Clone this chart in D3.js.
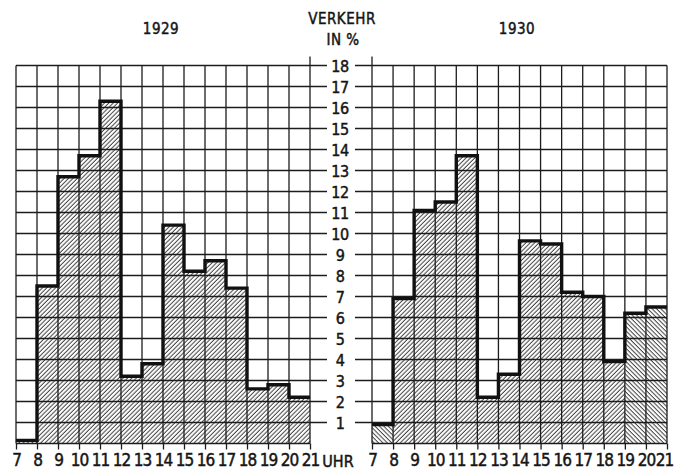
<!DOCTYPE html>
<html>
<head>
<meta charset="utf-8">
<script src="https://cdn.jsdelivr.net/npm/d3@7"></script>
<style>
    body { margin: 0; background: #fff; }
    svg { display: block; }
    text { font-family: "DejaVu Sans Condensed", "DejaVu Sans", sans-serif; fill: #151515; stroke: #151515; stroke-width: 0.45px; }
</style>
</head>
<body>
<svg id="drawing_region"></svg>
<script>
// Verkehr in % per Stunde (Startstunde 7 ... 20)
const hours = [7, 8, 9, 10, 11, 12, 13, 14, 15, 16, 17, 18, 19, 20];
const hourTicks = [7, 8, 9, 10, 11, 12, 13, 14, 15, 16, 17, 18, 19, 20, 21];
const percentTicks = [1, 2, 3, 4, 5, 6, 7, 8, 9, 10, 11, 12, 13, 14, 15, 16, 17, 18];
const traffic1929 = [0.15, 7.5, 12.7, 13.7, 16.3, 3.2, 3.8, 10.4, 8.2, 8.7, 7.4, 2.6, 2.8, 2.2];
const traffic1930 = [0.9, 6.9, 11.1, 11.5, 13.7, 2.2, 3.3, 9.65, 9.5, 7.2, 7.0, 3.9, 6.2, 6.5];
const years = ['1929', '1930'];

const svg = d3.select('#drawing_region')
    .attr('width', 674)
    .attr('height', 471);

const defs = svg.append('defs');
function hatch(id, angle) {
    defs.append('pattern')
        .attr('id', id)
        .attr('patternUnits', 'userSpaceOnUse')
        .attr('width', 3.1)
        .attr('height', 10)
        .attr('patternTransform', `rotate(${angle})`)
      .append('line')
        .attr('x1', 1).attr('y1', 0)
        .attr('x2', 1).attr('y2', 10)
        .attr('stroke', '#2a2a2a')
        .attr('stroke-width', 0.9);
}
hatch('hatch_fwd', 45);
hatch('hatch_back', -45);

const yscale = d3.scaleLinear()
    .domain([0, 18])
    .range([443.5, 65.5]);

class Panel {
    constructor( config, data ) {
        this.config = config;
        this.data = data;
        this.init();
    }

    init() {
        let self = this;
        self.xscale = d3.scaleLinear()
            .domain([7, 21])
            .range(self.config.range);
        self.g = svg.append('g');
    }

    render() {
        let self = this;
        const x = self.xscale;
        const reverse = self.config.reverseHatch || [];

        // hatched bars
        self.g.append('g')
            .selectAll('rect')
            .data(self.data)
            .join('rect')
            .attr('x', (d, i) => x(hours[i]))
            .attr('width', (d, i) => x(hours[i] + 1) - x(hours[i]))
            .attr('y', d => yscale(d))
            .attr('height', d => yscale(0) - yscale(d))
            .attr('fill', (d, i) => reverse.includes(hours[i]) ? 'url(#hatch_back)' : 'url(#hatch_fwd)');

        // grid
        const grid = self.g.append('g')
            .attr('stroke', '#1c1c1c')
            .attr('stroke-width', 1.3);

        grid.selectAll('line.h')
            .data([0].concat(percentTicks))
            .join('line')
            .attr('class', 'h')
            .attr('x1', d => d === 0 ? x(7) : Math.min(x(7), self.config.gridExtend))
            .attr('x2', d => d === 0 ? x(21) : Math.max(x(21), self.config.gridExtend))
            .attr('y1', d => yscale(d))
            .attr('y2', d => yscale(d));

        grid.selectAll('line.v')
            .data(hourTicks)
            .join('line')
            .attr('class', 'v')
            .attr('x1', d => x(d))
            .attr('x2', d => x(d))
            .attr('y1', yscale(0))
            .attr('y2', d => d === self.config.innerEdge ? yscale(18) - 9 : yscale(18));

        // step outline
        const pts = [];
        self.data.forEach((d, i) => {
            pts.push([hours[i], d]);
            pts.push([hours[i] + 1, d]);
        });
        const line = d3.line()
            .x(d => x(d[0]))
            .y(d => yscale(d[1]));
        self.g.append('path')
            .attr('d', line(pts))
            .attr('fill', 'none')
            .attr('stroke', '#111')
            .attr('stroke-width', 3.4)
            .attr('stroke-linejoin', 'miter');

        // hour axis
        const xaxis = d3.axisBottom(x)
            .tickValues(hourTicks)
            .tickSize(6)
            .tickPadding(4)
            .tickFormat(d3.format('d'));
        const ax = self.g.append('g')
            .attr('transform', `translate(0, ${yscale(0)})`)
            .call(xaxis);
        ax.select('.domain').remove();
        ax.selectAll('.tick line')
            .attr('stroke', '#1c1c1c')
            .attr('stroke-width', 1.3);
        ax.selectAll('.tick text')
            .attr('fill', '#151515')
            .attr('dx', d => d === 21 ? self.config.lastShift : 0)
            .style('font-family', '"DejaVu Sans Condensed", sans-serif')
            .style('font-size', '17px')
            .style('letter-spacing', '-1px');

        // year title
        self.g.append('text')
            .attr('x', self.config.titleX)
            .attr('y', 34)
            .attr('text-anchor', 'middle')
            .style('font-size', '15px')
            .style('letter-spacing', '0.5px')
            .text(self.config.title);
    }
}

const left = new Panel({ range: [16, 310], title: years[0], titleX: 161, gridExtend: 327, innerEdge: 21, lastShift: 0 }, traffic1929);
const right = new Panel({ range: [372, 667], title: years[1], titleX: 517, gridExtend: 355, innerEdge: 7, lastShift: -3, reverseHatch: [7, 19, 20] }, traffic1930);
left.render();
right.render();

// central percent axis
const yaxis = d3.axisLeft(yscale)
    .tickValues(percentTicks)
    .tickSize(0)
    .tickPadding(0)
    .tickFormat(d3.format('d'));
const yax = svg.append('g')
    .attr('transform', 'translate(340, 0)')
    .call(yaxis);
yax.select('.domain').remove();
yax.selectAll('.tick text')
    .attr('x', 0)
    .attr('text-anchor', 'middle')
    .attr('dy', '0.36em')
    .attr('fill', '#151515')
    .style('font-family', '"DejaVu Sans Condensed", sans-serif')
    .style('font-size', '16px')
    .style('letter-spacing', '-0.5px');

svg.append('text')
    .attr('x', 342)
    .attr('y', 24)
    .attr('text-anchor', 'middle')
    .style('font-size', '15px')
    .style('letter-spacing', '0.5px')
    .text('VERKEHR');

svg.append('text')
    .attr('x', 343)
    .attr('y', 45)
    .attr('text-anchor', 'middle')
    .style('font-size', '15px')
    .style('letter-spacing', '0.5px')
    .text('IN %');

svg.append('text')
    .attr('x', 338)
    .attr('y', 467)
    .attr('text-anchor', 'middle')
    .style('font-size', '16px')
    .text('UHR');
</script>
</body>
</html>
